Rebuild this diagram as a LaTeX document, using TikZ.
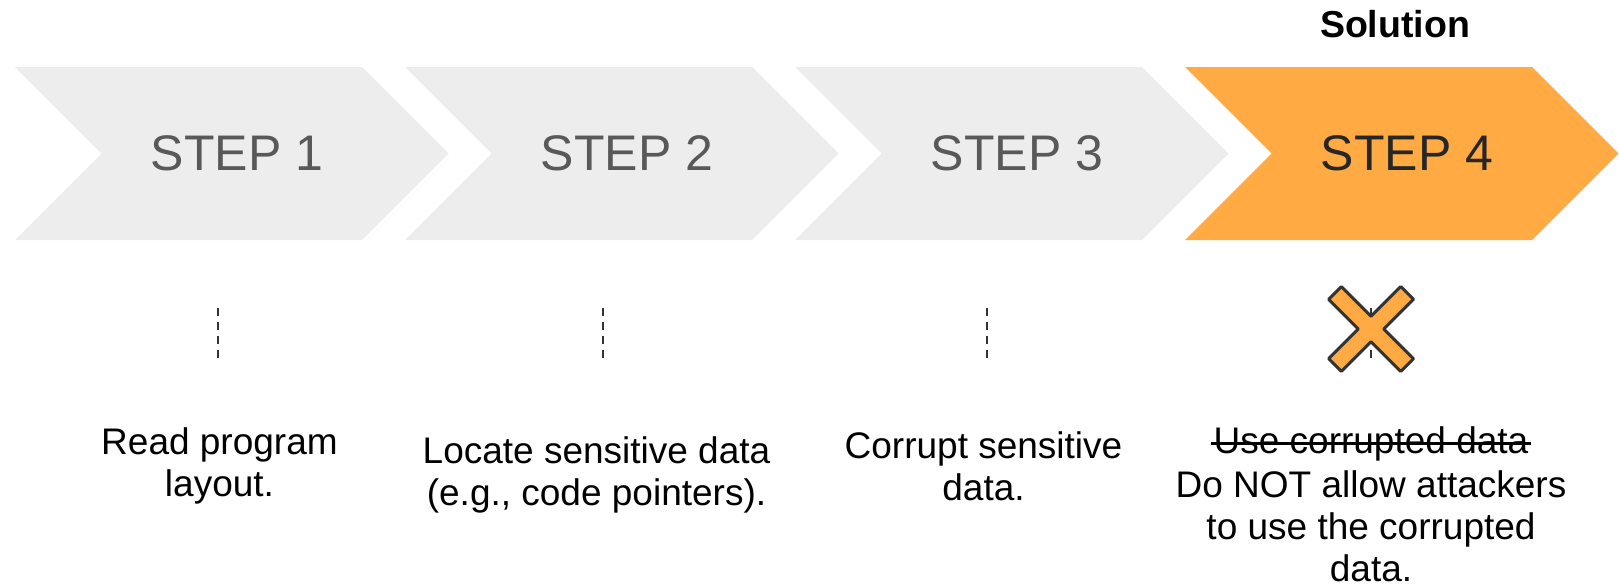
\documentclass[tikz,border=0pt]{standalone}
\usepackage{fontspec}
\setmainfont{Liberation Sans}
\definecolor{chevgray}{HTML}{EDEDED}
\definecolor{chevorange}{HTML}{FFAA42}
\definecolor{stepgray}{HTML}{595959}
\definecolor{stepdark}{HTML}{262626}
\definecolor{xline}{HTML}{333333}

\tikzset{
  steplabel/.style={font=\fontsize{50}{60}\selectfont, anchor=base, inner sep=0pt},
  desc/.style={font=\fontsize{37}{42}\selectfont, align=center, anchor=base, inner sep=0pt},
  guide/.style={draw=xline, line width=1.5pt, dash pattern=on 8pt off 6pt},
  xmark/.style={fill=chevorange, draw=xline, line width=3pt, line join=round},
}

\begin{document}
\begin{tikzpicture}[x=1pt,y=-1pt]
	\useasboundingbox (0,0) rectangle (1619,587);
	% chevrons
	\foreach \i/\col/\txt in {1/chevgray/stepgray,2/chevgray/stepgray,3/chevgray/stepgray,4/chevorange/stepdark}{
		\pgfmathsetmacro{\xo}{15+390*(\i-1)}
		\fill[\col] (\xo,67) -- ++(347,0) -- ++(86.5,86.5) -- ++(-86.5,86.5)
			-- ++(-347,0) -- ++(86.5,-86.5) -- cycle;
		\node[steplabel, text=\txt] (step\i) at (\xo+222,170) {STEP \i};
	}
	\node[font=\bfseries\fontsize{37.5}{40}\selectfont, anchor=base, inner sep=0pt] (solution) at (1395,37) {Solution};
	% dashed guides
	\foreach \i/\x in {1/218,2/603,3/987,4/1371}{
		\coordinate (top\i) at (\x,308);
		\coordinate (bot\i) at (\x,358);
		\draw[guide] (top\i) -- (bot\i);
	}
	% cross
	\begin{scope}[shift={(1371,329)}, rotate=45]
		\draw[xmark] (9,9) -- (51,9) -- (51,-9) -- (9,-9) -- (9,-51) -- (-9,-51)
			-- (-9,-9) -- (-51,-9) -- (-51,9) -- (-9,9) -- (-9,51) -- (9,51) -- cycle;
	\end{scope}
	% descriptions (base = last line)
	\node[desc] (desc1) at (219.5,496) {Read program\\layout.};
	\node[desc] (desc2) at (596.5,505) {Locate sensitive data\\(e.g., code pointers).};
	\node[desc] (desc3) at (983.5,500) {Corrupt sensitive\\data.};
	\node[desc] (struck) at (1371,453) {Use corrupted data};
	\draw[line width=3pt] ([xshift=-2pt,yshift=10pt]struck.base west) -- ([xshift=2pt,yshift=10pt]struck.base east);
	\node[desc] (desc4) at (1371,581) {Do NOT allow attackers\\to use the corrupted\\data.};
\end{tikzpicture}
\end{document}
